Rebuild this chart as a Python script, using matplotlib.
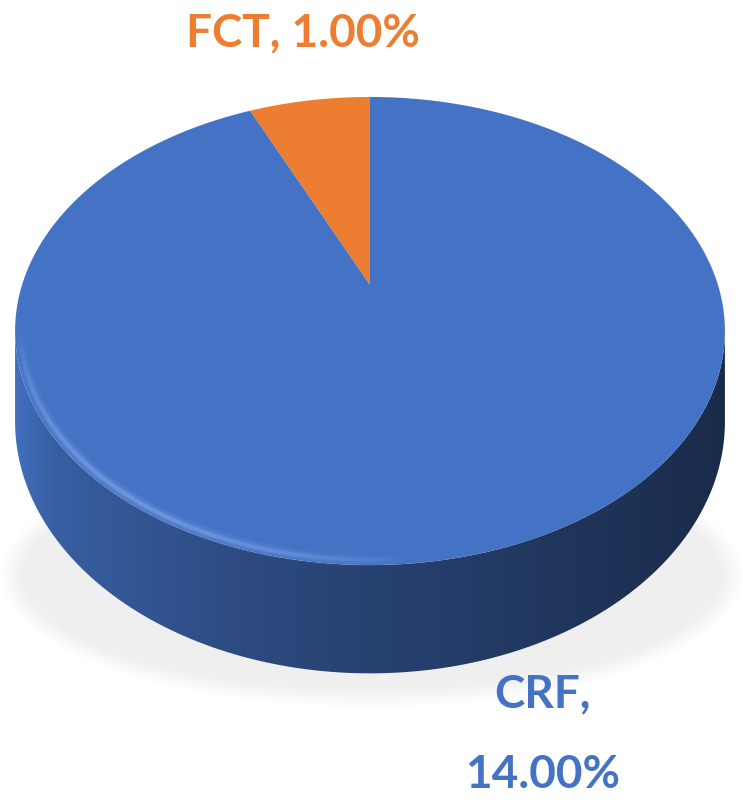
import numpy as np
import matplotlib.pyplot as plt
from matplotlib.patches import Polygon, Ellipse
from matplotlib.collections import LineCollection

labels = ["CRF", "FCT"]
values = [14.00, 1.00]
colors = ["#4472c4", "#ed7d31"]

W, H = 743, 808
cx, cy = 370, 285      # pie centre on screen
sx, a = 348, 225       # horizontal / depth scale
k = 0.1966             # perspective factor
thick = 87             # side height


def proj(t, drop=0.0, r=1.0):
    # point on circle of radius r at angle t (radians, 0 = right, ccw)
    x, y = r * np.cos(t), r * np.sin(t)
    s = 1.0 / (1 + k * y)
    return cx + sx * x * s, cy - a * y * s + drop * s


fig = plt.figure(figsize=(W / 100, H / 100), dpi=100)
ax = fig.add_axes([0, 0, 1, 1])
ax.set_xlim(0, W)
ax.set_ylim(H, 0)
ax.axis("off")

# soft shadow under the pie
for i in range(8):
    ax.add_patch(Ellipse((372, 575), 700 + i * 6, 230 + i * 5,
                         color="#c8c8c8", alpha=0.03, lw=0, zorder=0))

# side wall (front half)
t_ext = np.arcsin(-k)
tt = np.linspace(np.pi - t_ext, 2 * np.pi + t_ext, 200)
top_x, top_y = proj(tt)
bot_x, bot_y = proj(tt[::-1], thick)
side = np.column_stack([np.r_[top_x, bot_x], np.r_[top_y, bot_y]])
side_patch = Polygon(side, closed=True, facecolor="none", edgecolor="none")
ax.add_patch(side_patch)
grad = np.linspace(0, 1, 256)
shade = np.interp(grad, [0, 0.06, 0.3, 0.6, 0.85, 1], [0.74, 0.62, 0.5, 0.4, 0.33, 0.28])
base = np.array([0x44, 0x72, 0xc4]) / 255
img = (shade[None, :, None] * base[None, None, :] / 0.75).clip(0, 1)
im = ax.imshow(img, extent=[10, 733, 700, 300], aspect="auto", zorder=1)
im.set_clip_path(side_patch)

# top face slices, starting at 12 o'clock, FCT counter-clockwise
total = sum(values)
start = np.pi / 2
for lab, val, col in sorted(zip(labels, values, colors), key=lambda r: r[0] != "FCT"):
    span = 2 * np.pi * val / total
    ts = np.linspace(start, start + span, 200)
    px, py = proj(ts)
    pts = np.column_stack([np.r_[cx, px], np.r_[cy, py]])
    ax.add_patch(Polygon(pts, closed=True, facecolor=col, edgecolor="none", zorder=2))
    start += span

# light rim along the front-left edge, fading at both ends
rim = np.linspace(np.pi + 0.2, 1.5 * np.pi + 0.1, 120)
rx, ry = proj(rim, r=0.985)
segs = np.stack([np.column_stack([rx[:-1], ry[:-1]]),
                 np.column_stack([rx[1:], ry[1:]])], axis=1)
fade = np.sin(np.linspace(0, np.pi, len(segs))) ** 0.7
for lw, al in [(9, 0.12), (5, 0.2), (2.5, 0.35)]:
    rgba = np.zeros((len(segs), 4))
    rgba[:, :3] = np.array([0x8f, 0xb4, 0xf5]) / 255
    rgba[:, 3] = al * fade
    ax.add_collection(LineCollection(segs, colors=rgba, linewidths=lw, zorder=3,
                                     capstyle="butt"))

font = ["Lato", "DejaVu Sans"]
ax.text(303, 33, "FCT, 1.00%", color=colors[1], fontsize=33, fontweight="bold",
        family=font, ha="center", va="center")
ax.text(543, 694, "CRF,", color=colors[0], fontsize=33, fontweight="bold",
        family=font, ha="center", va="center")
ax.text(543, 775, "14.00%", color=colors[0], fontsize=33, fontweight="bold",
        family=font, ha="center", va="center")

fig.savefig("out.png", dpi=100)
